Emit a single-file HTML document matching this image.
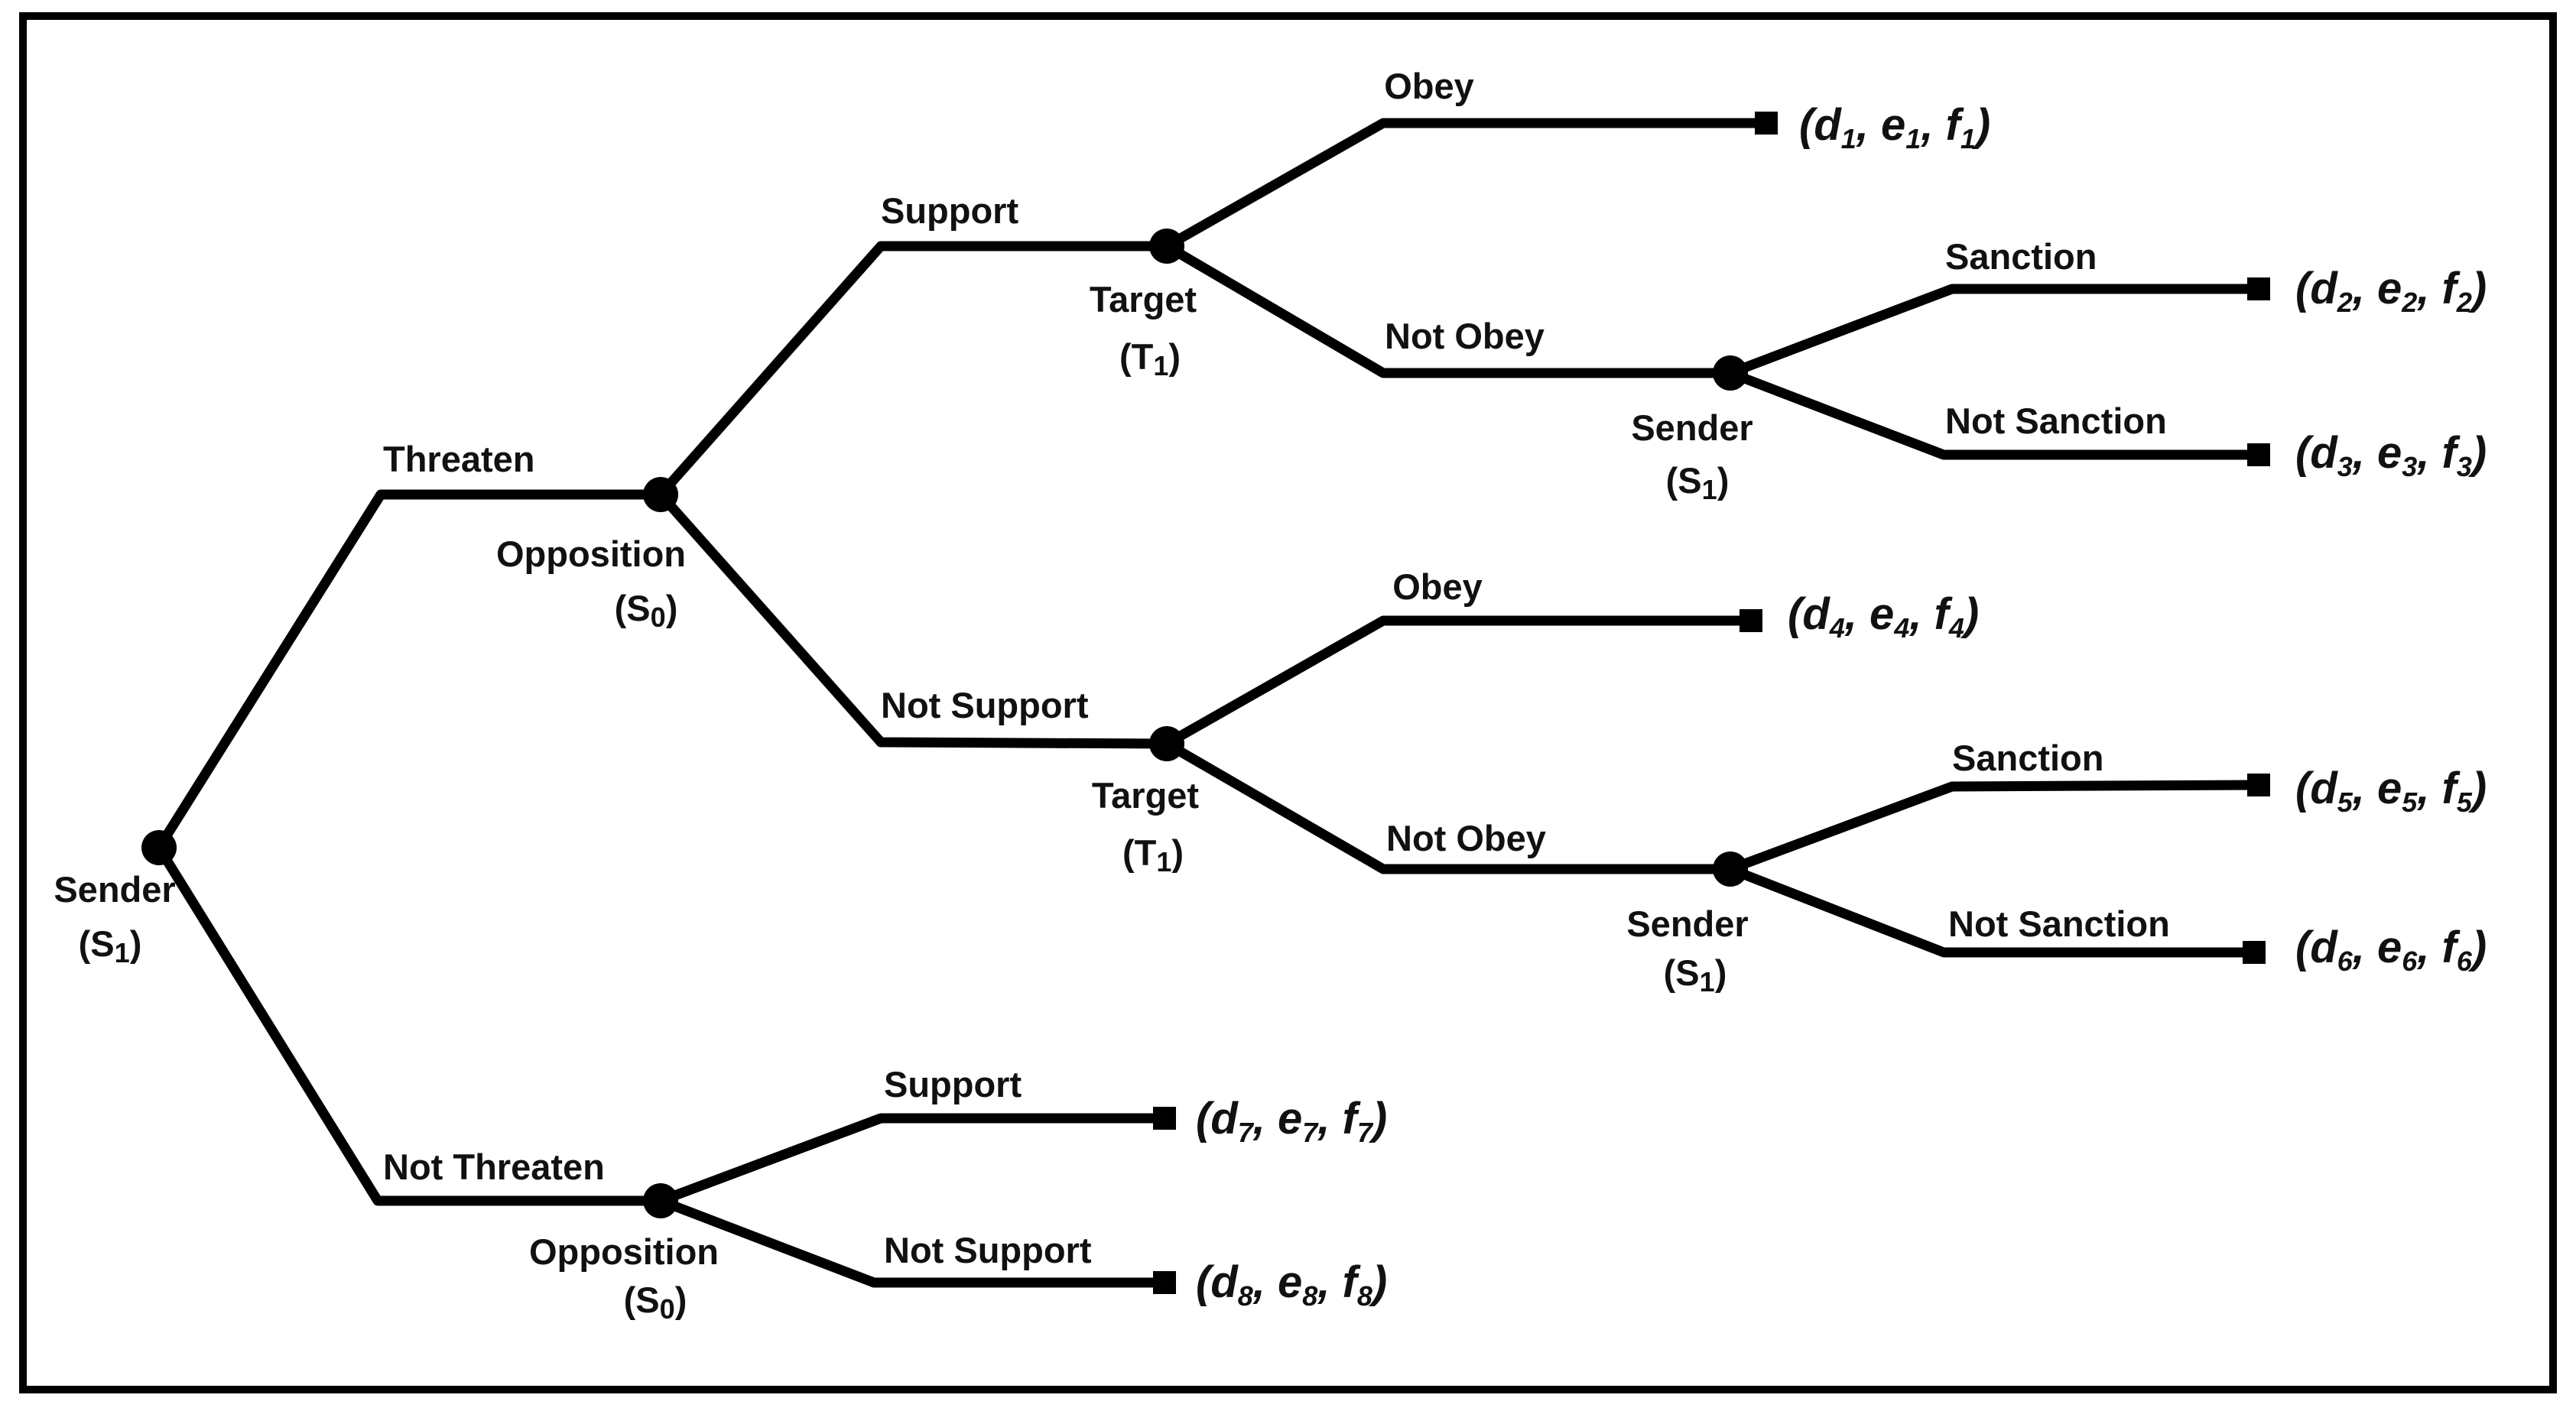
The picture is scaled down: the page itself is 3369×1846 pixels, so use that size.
<!DOCTYPE html>
<html><head><meta charset="utf-8"><style>
html,body{margin:0;padding:0;background:#fff}
svg{display:block}
text{font-family:"Liberation Sans",sans-serif;font-weight:bold;fill:#111}
.l{font-size:47px}
.p{font-size:58px;font-style:italic}
.s{font-size:36px}
</style></head><body>
<svg width="3369" height="1846" viewBox="0 0 3369 1846" xmlns="http://www.w3.org/2000/svg">
<rect x="0" y="0" width="3369" height="1846" fill="#fff"/>
<rect x="30" y="21" width="3309" height="1797" fill="none" stroke="#000" stroke-width="10"/>
<g fill="none" stroke="#000" stroke-width="13" stroke-linejoin="round">
<polyline points="208,1109 498,647 864,647"/>
<polyline points="208,1109 494,1571 864,1571"/>
<polyline points="864,647 1152,322 1526,322"/>
<polyline points="864,647 1152,971 1526,973"/>
<polyline points="1526,322 1809,161 2310,161"/>
<polyline points="1526,322 1809,488 2263,488"/>
<polyline points="2263,488 2553,378 2954,378"/>
<polyline points="2263,488 2542,595 2954,595"/>
<polyline points="1526,973 1809,812 2290,812"/>
<polyline points="1526,973 1809,1137 2263,1137"/>
<polyline points="2263,1137 2553,1029 2954,1027"/>
<polyline points="2263,1137 2542,1246 2948,1246"/>
<polyline points="864,1571 1152,1463 1523,1463"/>
<polyline points="864,1571 1143,1678 1523,1678"/>
</g>
<g fill="#000">
<circle cx="208" cy="1109" r="23"/>
<circle cx="864" cy="647" r="23"/>
<circle cx="864" cy="1571" r="23"/>
<circle cx="1526" cy="322" r="23"/>
<circle cx="1526" cy="973" r="23"/>
<circle cx="2263" cy="488" r="23"/>
<circle cx="2263" cy="1137" r="23"/>
<rect x="2295" y="146" width="30" height="30"/>
<rect x="2939" y="363" width="30" height="30"/>
<rect x="2939" y="580" width="30" height="30"/>
<rect x="2275" y="797" width="30" height="30"/>
<rect x="2939" y="1012" width="30" height="30"/>
<rect x="2933" y="1231" width="30" height="30"/>
<rect x="1508" y="1448" width="30" height="30"/>
<rect x="1508" y="1663" width="30" height="30"/>
</g>
<g class="l">
<text x="1869" y="129" text-anchor="middle">Obey</text>
<text x="1152" y="292">Support</text>
<text x="501" y="617">Threaten</text>
<text x="649" y="741">Opposition</text>
<text x="845" y="812" text-anchor="middle">(S<tspan class="s" dy="8">0</tspan><tspan dy="-8">)</tspan></text>
<text x="1495" y="408" text-anchor="middle">Target</text>
<text x="1504" y="483" text-anchor="middle">(T<tspan class="s" dy="8">1</tspan><tspan dy="-8">)</tspan></text>
<text x="1811" y="456">Not Obey</text>
<text x="2213" y="576" text-anchor="middle">Sender</text>
<text x="2220" y="645" text-anchor="middle">(S<tspan class="s" dy="8">1</tspan><tspan dy="-8">)</tspan></text>
<text x="2544" y="352">Sanction</text>
<text x="2544" y="567">Not Sanction</text>
<text x="1152" y="939">Not Support</text>
<text x="1498" y="1057" text-anchor="middle">Target</text>
<text x="1508" y="1132" text-anchor="middle">(T<tspan class="s" dy="8">1</tspan><tspan dy="-8">)</tspan></text>
<text x="1880" y="784" text-anchor="middle">Obey</text>
<text x="1813" y="1113">Not Obey</text>
<text x="2207" y="1225" text-anchor="middle">Sender</text>
<text x="2217" y="1289" text-anchor="middle">(S<tspan class="s" dy="8">1</tspan><tspan dy="-8">)</tspan></text>
<text x="2553" y="1008">Sanction</text>
<text x="2548" y="1225">Not Sanction</text>
<text x="150" y="1180" text-anchor="middle">Sender</text>
<text x="144" y="1251" text-anchor="middle">(S<tspan class="s" dy="8">1</tspan><tspan dy="-8">)</tspan></text>
<text x="501" y="1543">Not Threaten</text>
<text x="816" y="1654" text-anchor="middle">Opposition</text>
<text x="857" y="1717" text-anchor="middle">(S<tspan class="s" dy="8">0</tspan><tspan dy="-8">)</tspan></text>
<text x="1156" y="1435">Support</text>
<text x="1156" y="1652">Not Support</text>
</g>
<g class="p">
<text x="2353" y="183">(d<tspan class="s" dy="11">1</tspan><tspan dy="-11">, e</tspan><tspan class="s" dy="11">1</tspan><tspan dy="-11">, f</tspan><tspan class="s" dy="11">1</tspan><tspan dy="-11">)</tspan></text>
<text x="3002" y="397">(d<tspan class="s" dy="11">2</tspan><tspan dy="-11">, e</tspan><tspan class="s" dy="11">2</tspan><tspan dy="-11">, f</tspan><tspan class="s" dy="11">2</tspan><tspan dy="-11">)</tspan></text>
<text x="3002" y="612">(d<tspan class="s" dy="11">3</tspan><tspan dy="-11">, e</tspan><tspan class="s" dy="11">3</tspan><tspan dy="-11">, f</tspan><tspan class="s" dy="11">3</tspan><tspan dy="-11">)</tspan></text>
<text x="2338" y="823">(d<tspan class="s" dy="11">4</tspan><tspan dy="-11">, e</tspan><tspan class="s" dy="11">4</tspan><tspan dy="-11">, f</tspan><tspan class="s" dy="11">4</tspan><tspan dy="-11">)</tspan></text>
<text x="3002" y="1051">(d<tspan class="s" dy="11">5</tspan><tspan dy="-11">, e</tspan><tspan class="s" dy="11">5</tspan><tspan dy="-11">, f</tspan><tspan class="s" dy="11">5</tspan><tspan dy="-11">)</tspan></text>
<text x="3002" y="1259">(d<tspan class="s" dy="11">6</tspan><tspan dy="-11">, e</tspan><tspan class="s" dy="11">6</tspan><tspan dy="-11">, f</tspan><tspan class="s" dy="11">6</tspan><tspan dy="-11">)</tspan></text>
<text x="1564" y="1483">(d<tspan class="s" dy="11">7</tspan><tspan dy="-11">, e</tspan><tspan class="s" dy="11">7</tspan><tspan dy="-11">, f</tspan><tspan class="s" dy="11">7</tspan><tspan dy="-11">)</tspan></text>
<text x="1564" y="1697">(d<tspan class="s" dy="11">8</tspan><tspan dy="-11">, e</tspan><tspan class="s" dy="11">8</tspan><tspan dy="-11">, f</tspan><tspan class="s" dy="11">8</tspan><tspan dy="-11">)</tspan></text>
</g>
</svg>
</body></html>
